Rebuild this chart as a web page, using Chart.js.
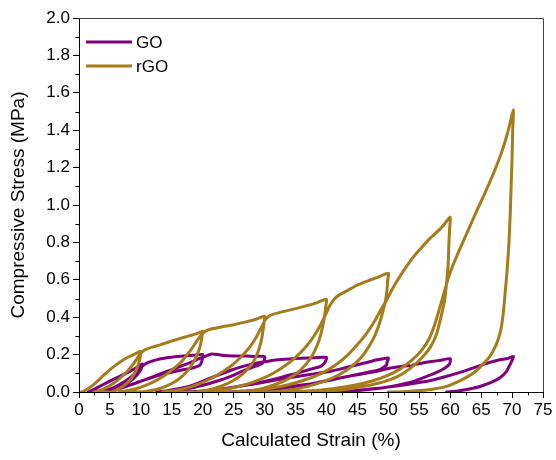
<!DOCTYPE html>
<html>
<head>
<meta charset="utf-8">
<script src="https://cdn.jsdelivr.net/npm/chart.js@4"></script>
<style>
    body { margin: 0; background: #fff; }
    #wrap { width: 556px; height: 460px; }
</style>
</head>
<body>
<div id="wrap"><canvas id="stressChart" width="556" height="460"></canvas></div>
<script>
// Axis ticks
const xTicks = [0, 5, 10, 15, 20, 25, 30, 35, 40, 45, 50, 55, 60, 65, 70, 75];
const yTicks = [0.0, 0.2, 0.4, 0.6, 0.8, 1.0, 1.2, 1.4, 1.6, 1.8, 2.0];

// Series labels / colours
const seriesNames = ['GO', 'rGO'];
const seriesColors = ['#800080', '#a67b1b'];

// GO cycles: [strain %, stress MPa], loading then unloading
const goLoop1 = [[1.5,0],[2.5,0.015],[3.5,0.033],[4.5,0.05],[5.5,0.066],[6.5,0.082],[7.5,0.098],[8.5,0.115],[9.5,0.135],[10.2,0.15],
    [10.1,0.13],[9.8,0.11],[9.3,0.088],[8.6,0.066],[7.7,0.045],[6.6,0.027],[5.4,0.013],[4.2,0.004],[3.2,0]];
const goLoop2 = [[3.2,0],[4.3,0.008],[5.5,0.022],[6.7,0.042],[7.8,0.066],[8.8,0.092],[9.7,0.12],[10.5,0.145],[11.3,0.16],[12.5,0.172],[14,0.182],[15.5,0.188],[17,0.193],[18.5,0.196],[20,0.2],
    [19.9,0.17],[19.6,0.145],[18.5,0.13],[17,0.12],[15.5,0.11],[13.5,0.095],[11.5,0.075],[9.5,0.052],[7.8,0.032],[6.3,0.015],[5,0.005],[4,0]];
const goLoop3 = [[4,0],[5.5,0.01],[7,0.025],[9,0.045],[11,0.07],[13,0.095],[15,0.12],[17,0.145],[18.5,0.165],[19.7,0.182],[20.8,0.196],[21.5,0.203],[22.5,0.2],[23.5,0.195],[25,0.193],[27,0.192],[28.5,0.19],[30,0.19],
    [29.9,0.165],[29.5,0.15],[28.6,0.138],[27.6,0.127],[26,0.105],[24.4,0.082],[22.5,0.06],[20.5,0.04],[18.5,0.024],[16.5,0.012],[14.5,0.004],[12.5,0]];
const goLoop4 = [[12.5,0],[14.5,0.008],[16.5,0.02],[18.5,0.038],[20.5,0.065],[22.5,0.09],[24.4,0.115],[26.5,0.137],[28.5,0.153],[30.3,0.163],[32,0.172],[34,0.177],[36,0.18],[38,0.183],[40,0.185],
    [39.8,0.16],[39.3,0.142],[38.9,0.135],[37,0.118],[35.2,0.1],[32.5,0.077],[29.8,0.055],[27,0.037],[24.4,0.023],[22,0.012],[19.5,0.004],[17,0]];
const goLoop5 = [[17,0],[20,0.006],[23,0.016],[26,0.03],[29,0.047],[32,0.065],[35,0.082],[38,0.097],[40.5,0.11],[42.5,0.125],[44.5,0.142],[46.5,0.158],[48.2,0.172],[50,0.182],
    [49.8,0.16],[49.7,0.144],[48.6,0.12],[47,0.108],[45,0.094],[43,0.08],[41,0.066],[38.5,0.05],[36,0.035],[33,0.02],[30,0.009],[27,0.002],[24,0]];
const goLoop6 = [[24,0],[27,0.005],[30,0.013],[33,0.024],[36,0.037],[38.5,0.05],[40.5,0.064],[43,0.08],[45.5,0.095],[48,0.11],[50.2,0.127],[52,0.136],[53.3,0.142],[53.6,0.135],[54,0.145],[55.5,0.155],[57,0.163],[58.5,0.17],[60,0.178],
    [59.9,0.15],[59.1,0.127],[58,0.108],[56.7,0.09],[55.3,0.072],[54,0.055],[52.3,0.042],[50.5,0.03],[48.6,0.02],[46,0.01],[43,0.003],[40,0]];
const goLoop7 = [[40,0],[43,0.004],[46,0.012],[49,0.022],[51.5,0.033],[54,0.045],[56.7,0.06],[59,0.08],[60.5,0.094],[62.1,0.11],[64,0.132],[65.9,0.153],[67.7,0.17],[69.4,0.18],[70.2,0.19],
    [70.1,0.175],[69.9,0.162],[69.5,0.135],[69.1,0.11],[68.2,0.08],[66.9,0.055],[65.3,0.035],[63.7,0.02],[61.5,0.007],[59.4,0]];

// rGO cycles
const rgoLoop1 = [[0.4,0],[1,0.008],[2,0.03],[3,0.058],[4,0.09],[5,0.12],[6,0.145],[7,0.168],[8,0.187],[9,0.203],[10,0.218],
    [9.95,0.2],[9.85,0.18],[9.65,0.155],[9.35,0.125],[8.9,0.095],[8.3,0.067],[7.6,0.043],[6.8,0.024],[6,0.01],[5.2,0]];
const rgoLoop2 = [[2.5,0],[3.5,0.01],[4.5,0.025],[5.5,0.045],[6.5,0.07],[7.5,0.1],[8.3,0.13],[9,0.16],[9.6,0.19],[10.2,0.215],[11,0.23],[12,0.241],[13,0.251],[14,0.262],[15,0.273],[16,0.283],[17,0.293],[18,0.302],[19,0.312],[20,0.325],
    [19.9,0.3],[19.75,0.27],[19.5,0.235],[19.1,0.2],[18.5,0.16],[17.7,0.12],[16.7,0.085],[15.5,0.055],[14,0.03],[12.5,0.013],[11,0.004],[9.5,0]];
const rgoLoop3 = [[6.5,0],[8,0.008],[9.5,0.02],[11,0.038],[12.5,0.062],[14,0.092],[15.3,0.125],[16.5,0.16],[17.5,0.2],[18.4,0.24],[19.2,0.28],[19.9,0.31],[20.6,0.328],[21.5,0.338],[23,0.348],[25,0.36],[27,0.375],[28.5,0.388],[30,0.405],
    [29.9,0.37],[29.75,0.33],[29.5,0.28],[29.1,0.23],[28.5,0.18],[27.6,0.135],[26.4,0.095],[25,0.063],[23.5,0.038],[22,0.02],[20.5,0.008],[19,0]];
const rgoLoop4 = [[13.5,0],[15.5,0.008],[17.5,0.022],[19.5,0.045],[21.5,0.075],[23.3,0.11],[25,0.15],[26.4,0.195],[27.6,0.24],[28.6,0.29],[29.4,0.34],[30.1,0.385],[30.8,0.408],[31.6,0.418],[33,0.43],[35,0.446],[37,0.463],[38.5,0.478],[40,0.496],
    [39.9,0.46],[39.75,0.42],[39.5,0.37],[39.1,0.31],[38.5,0.25],[37.7,0.195],[36.6,0.145],[35.2,0.1],[33.5,0.065],[31.5,0.038],[29.5,0.018],[27.5,0.006],[25.5,0]];
const rgoLoop5 = [[19.5,0],[22,0.008],[24.5,0.02],[27,0.04],[29.3,0.067],[31.4,0.1],[33.3,0.14],[35,0.185],[36.5,0.235],[37.8,0.29],[38.9,0.35],[39.8,0.41],[40.5,0.46],[41.2,0.495],[42.2,0.522],[43.8,0.55],[45.2,0.575],[46.5,0.592],[48,0.61],[50,0.635],
    [49.9,0.6],[49.8,0.55],[49.6,0.5],[49.2,0.44],[48.6,0.37],[47.8,0.3],[46.8,0.24],[45.5,0.18],[43.8,0.13],[41.8,0.088],[39.5,0.055],[37,0.03],[34.5,0.013],[32,0.003],[30,0]];
const rgoLoop6 = [[25,0],[28,0.008],[31,0.02],[34,0.04],[36.8,0.068],[39.2,0.1],[41.3,0.14],[43.2,0.19],[44.9,0.25],[46.4,0.31],[47.8,0.38],[48.8,0.44],[49.7,0.49],[50.8,0.56],[52,0.625],[53,0.675],[54,0.72],[55.3,0.77],[56.7,0.82],[58,0.86],[59,0.895],[60,0.935],
    [59.9,0.87],[59.8,0.8],[59.65,0.67],[59.4,0.58],[59.1,0.49],[58.5,0.4],[57.8,0.31],[56.8,0.24],[55.6,0.19],[53.5,0.125],[51.3,0.08],[48.5,0.048],[45,0.024],[41.5,0.008],[38,0]];
const rgoLoop7 = [[33,0],[37,0.006],[41,0.018],[44.5,0.036],[47.5,0.06],[50,0.09],[52,0.125],[53.8,0.17],[55.3,0.22],[56.6,0.285],[57.6,0.37],[58.3,0.45],[59,0.53],[59.8,0.62],[60.6,0.69],[61.5,0.76],[62.5,0.835],[63.5,0.91],[64.5,0.985],[65.5,1.055],[66.5,1.13],[67.5,1.21],[68.5,1.3],[69.4,1.4],[70.2,1.51],
    [70.1,1.4],[70.0,1.25],[69.85,1.1],[69.7,0.95],[69.5,0.8],[69.2,0.65],[68.8,0.5],[68.5,0.4],[68.1,0.32],[67.4,0.25],[66.4,0.19],[65.2,0.145],[63.7,0.1],[61.7,0.062],[59.4,0.03],[56.5,0.012],[53,0.003],[50,0]];

const goLoops = [goLoop1, goLoop2, goLoop3, goLoop4, goLoop5, goLoop6, goLoop7];
const rgoLoops = [rgoLoop1, rgoLoop2, rgoLoop3, rgoLoop4, rgoLoop5, rgoLoop6, rgoLoop7];

// Join the cycles into one path of {x, y} points
function toPoints(loops) {
    return loops.flat().map(([x, y]) => ({ x, y }));
}

const FONT = "'Liberation Sans', Arial, sans-serif";

// Minor ticks, the top/right frame and the legend inside the plot
const framePlugin = {
    id: 'frame',
    afterDraw(chart) {
        const { ctx, chartArea: a, scales } = chart;
        ctx.save();
        ctx.strokeStyle = '#000';
        ctx.lineWidth = 1;
        ctx.beginPath();
        for (let i = 0; i < xTicks.length - 1; i++) {
            const px = Math.round(scales.x.getPixelForValue((xTicks[i] + xTicks[i + 1]) / 2)) + 0.5;
            ctx.moveTo(px, a.bottom);
            ctx.lineTo(px, a.bottom + 3.5);
        }
        for (let i = 0; i < yTicks.length - 1; i++) {
            const py = Math.round(scales.y.getPixelForValue((yTicks[i] + yTicks[i + 1]) / 2)) + 0.5;
            ctx.moveTo(a.left, py);
            ctx.lineTo(a.left - 3.5, py);
        }
        ctx.stroke();

        ctx.strokeStyle = '#444';
        ctx.beginPath();
        ctx.moveTo(a.left, a.top + 0.5);
        ctx.lineTo(a.right + 0.5, a.top + 0.5);
        ctx.lineTo(a.right + 0.5, a.bottom);
        ctx.stroke();

        // legend
        ctx.font = `17px ${FONT}`;
        ctx.textBaseline = 'middle';
        chart.data.datasets.forEach((ds, i) => {
            const y = a.top + 24 + i * 24;
            ctx.strokeStyle = ds.borderColor;
            ctx.lineWidth = 3;
            ctx.beginPath();
            ctx.moveTo(a.left + 7, y);
            ctx.lineTo(a.left + 53, y);
            ctx.stroke();
            ctx.fillStyle = '#000';
            ctx.fillText(ds.label, a.left + 57, y + 1);
        });
        ctx.restore();
    }
};

const ctx = document.getElementById('stressChart').getContext('2d');
new Chart(ctx, {
    type: 'scatter',
    data: {
        datasets: [
            {
                label: seriesNames[0],
                data: toPoints(goLoops),
                borderColor: seriesColors[0],
                order: 2
            },
            {
                label: seriesNames[1],
                data: toPoints(rgoLoops),
                borderColor: seriesColors[1],
                order: 1
            }
        ]
    },
    options: {
        responsive: false,
        animation: false,
        showLine: true,
        layout: {
            padding: { top: 18, right: 13, left: 0, bottom: 0 }
        },
        elements: {
            point: { radius: 0 },
            line: { borderWidth: 3, tension: 0.2, borderJoinStyle: 'round', borderCapStyle: 'round' }
        },
        plugins: {
            legend: { display: false },
            tooltip: { enabled: false }
        },
        scales: {
            x: {
                min: 0,
                max: 75,
                afterBuildTicks: scale => { scale.ticks = xTicks.map(v => ({ value: v })); },
                afterFit: scale => { scale.height = 68; },
                ticks: {
                    color: '#000',
                    font: { family: FONT, size: 17 },
                    padding: 2,
                    maxRotation: 0,
                    autoSkip: false
                },
                grid: {
                    drawOnChartArea: false,
                    drawTicks: true,
                    tickLength: 6,
                    color: '#000'
                },
                border: { color: '#000', width: 1 },
                title: {
                    display: true,
                    text: 'Calculated Strain (%)',
                    color: '#000',
                    font: { family: FONT, size: 19 },
                    padding: { top: 0, bottom: 8 }
                }
            },
            y: {
                min: 0,
                max: 2,
                afterBuildTicks: scale => { scale.ticks = yTicks.map(v => ({ value: v })); },
                afterFit: scale => { scale.width = 79; },
                ticks: {
                    color: '#000',
                    font: { family: FONT, size: 17 },
                    padding: 3,
                    callback: v => v.toFixed(1)
                },
                grid: {
                    drawOnChartArea: false,
                    drawTicks: true,
                    tickLength: 6,
                    color: '#000'
                },
                border: { color: '#000', width: 1 },
                title: {
                    display: true,
                    text: 'Compressive Stress (MPa)',
                    color: '#000',
                    font: { family: FONT, size: 19 },
                    padding: { top: 7, bottom: 0 }
                }
            }
        }
    },
    plugins: [framePlugin]
});
</script>
</body>
</html>
